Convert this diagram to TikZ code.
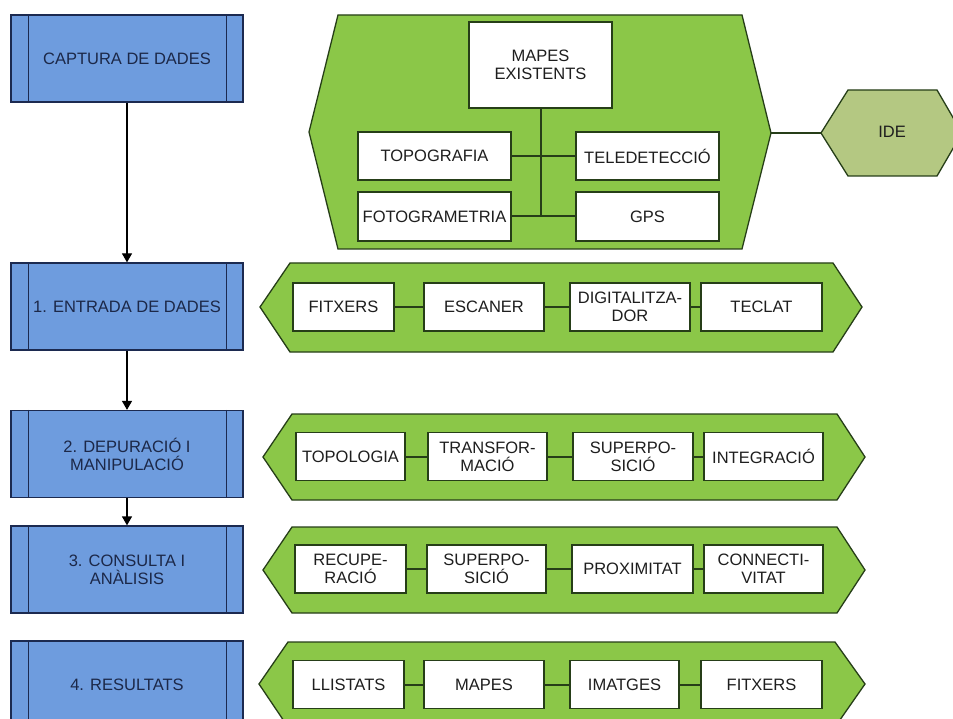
\documentclass[tikz,border=0pt]{standalone}
\usepackage{fontspec}
\setmainfont{Liberation Sans}
\usetikzlibrary{arrows.meta}
\definecolor{bluefill}{RGB}{110,156,222}
\definecolor{blueline}{RGB}{28,42,80}
\definecolor{bluetext}{RGB}{28,40,72}
\definecolor{greenfill}{RGB}{139,199,72}
\definecolor{greenline}{RGB}{38,62,24}
\definecolor{idefill}{RGB}{180,200,130}
\definecolor{itemtext}{RGB}{30,30,30}
\tikzset{
  stagebox/.style={draw=blueline, fill=bluefill, line width=1.3pt, minimum width=232pt,
    minimum height=87pt, inner sep=0pt, align=center, text=bluetext,
    font=\fontsize{16.5}{18}\selectfont},
  itembox/.style={draw=greenline, fill=white, line width=1.3pt, minimum height=48pt,
    inner sep=0pt, align=center, text=itemtext, font=\fontsize{16.5}{18}\selectfont},
  greenshape/.style={draw=greenline, fill=greenfill, line width=1.3pt, line join=miter},
  link/.style={draw=greenline, line width=2pt},
  flow/.style={draw=black, line width=1.3pt, -{Triangle[width=10pt,length=9pt]}},
}
\begin{document}
\begin{tikzpicture}[x=1pt,y=-1pt]
\useasboundingbox (0,0) rectangle (953,719);
\clip (0,0) rectangle (953,719);
\fill[white] (0,0) rectangle (953,719);

% green shapes
\draw[greenshape] (338,15) -- (742,15) -- (771,133) coordinate (topR) -- (742,249) -- (338,249) -- (309,132) -- cycle;
\draw[greenshape] (290,263) -- (833,263) -- (862,307) -- (833,352) -- (290,352) -- (260,307) -- cycle;
\draw[greenshape] (292,414) -- (837,414) -- (865,457) -- (837,500) -- (292,500) -- (263,457) -- cycle;
\draw[greenshape] (292,527) -- (837,527) -- (865,570) -- (837,613) -- (292,613) -- (263,570) -- cycle;
\draw[greenshape] (288,642) -- (835,642) -- (865,684) -- (835,727) -- (288,727) -- (259,684) -- cycle;
% IDE
\draw[greenshape, fill=idefill] (848,90) -- (937,90) -- (962,133) -- (937,176) -- (848,176) -- (821,133) coordinate (ideL) -- cycle;
\node[text=itemtext, font=\fontsize{16.5}{18}\selectfont] (ide) at (892,132) {IDE};
\draw[draw=greenline, line width=1.3pt] (topR) -- (ideL);

% stage boxes
\foreach \n/\y/\t in {b0/58.5/{CAPTURA DE DADES}, b1/306.5/{1. ENTRADA DE DADES},
  b2/454/{2. DEPURACIÓ I\\MANIPULACIÓ}, b3/569.5/{3. CONSULTA I\\ANÀLISIS}, b4/684.5/{4. RESULTATS}}{
  \node[stagebox] (\n) at (127,\y) {\t};
  \draw[blueline, line width=1.3pt] ([xshift=18pt]\n.north west) -- ([xshift=18pt]\n.south west);
  \draw[blueline, line width=1.3pt] ([xshift=-17pt]\n.north east) -- ([xshift=-17pt]\n.south east);
}
\draw[flow] (b0) -- (b1);
\draw[flow] (b1) -- (b2);
\draw[flow] (b2) -- (b3);

% top cluster
\node[itembox, minimum width=143pt, minimum height=86pt] (mapesx) at (540.5,65) {MAPES\\EXISTENTS};
\node[itembox, minimum width=153pt] (topo) at (434.5,156) {TOPOGRAFIA};
\node[itembox, minimum width=143pt] (tele) at (647.5,156) {TELEDETECCIÓ};
\node[itembox, minimum width=153pt, minimum height=49pt] (foto) at (434.5,216.5) {FOTOGRAMETRIA};
\node[itembox, minimum width=143pt, minimum height=49pt] (gps) at (647.5,216.5) {GPS};
\draw[link] (mapesx.south) -- (mapesx.south |- foto.east);
\draw[link] (topo) -- (tele);
\draw[link] (foto) -- (gps);

% row 1
\node[itembox, minimum width=101pt] (r1a) at (343.5,307) {FITXERS};
\node[itembox, minimum width=120pt] (r1b) at (484,307) {ESCANER};
\node[itembox, minimum width=120pt] (r1c) at (630,307) {DIGITALITZA-\\DOR};
\node[itembox, minimum width=121pt] (r1d) at (761.5,307) {TECLAT};
\draw[link] (r1a) -- (r1b); \draw[link] (r1b) -- (r1c); \draw[link] (r1c) -- (r1d);

% row 2
\node[itembox, minimum width=109pt] (r2a) at (350.5,456.5) {TOPOLOGIA};
\node[itembox, minimum width=119pt] (r2b) at (487.5,456.5) {TRANSFOR-\\MACIÓ};
\node[itembox, minimum width=120pt] (r2c) at (633,456.5) {SUPERPO-\\SICIÓ};
\node[itembox, minimum width=119pt] (r2d) at (763.5,456.5) {INTEGRACIÓ};
\draw[link] (r2a) -- (r2b); \draw[link] (r2b) -- (r2c); \draw[link] (r2c) -- (r2d);

% row 3
\node[itembox, minimum width=111pt] (r3a) at (350.5,569) {RECUPE-\\RACIÓ};
\node[itembox, minimum width=119pt] (r3b) at (486.5,569) {SUPERPO-\\SICIÓ};
\node[itembox, minimum width=121pt] (r3c) at (632.5,569) {PROXIMITAT};
\node[itembox, minimum width=119pt] (r3d) at (763.5,569) {CONNECTI-\\VITAT};
\draw[link] (r3a) -- (r3b); \draw[link] (r3b) -- (r3c); \draw[link] (r3c) -- (r3d);

% row 4
\node[itembox, minimum width=111pt] (r4a) at (348.5,684.5) {LLISTATS};
\node[itembox, minimum width=120pt] (r4b) at (484,684.5) {MAPES};
\node[itembox, minimum width=109pt] (r4c) at (624.5,684.5) {IMATGES};
\node[itembox, minimum width=121pt] (r4d) at (761.5,684.5) {FITXERS};
\draw[link] (r4a) -- (r4b); \draw[link] (r4b) -- (r4c); \draw[link] (r4c) -- (r4d);
\end{tikzpicture}
\end{document}
